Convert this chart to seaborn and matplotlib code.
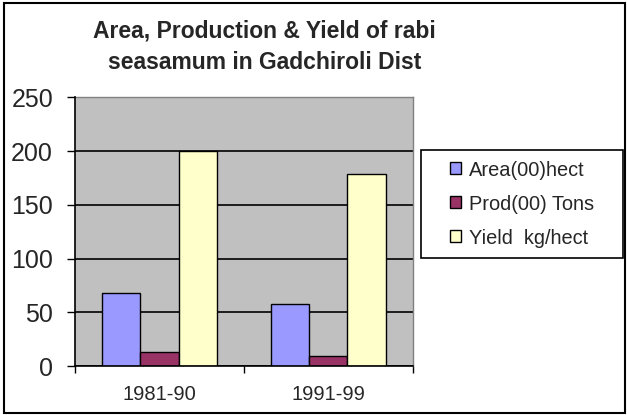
import matplotlib
matplotlib.use("Agg")
import matplotlib.pyplot as plt
import seaborn as sns
import pandas as pd
from matplotlib.patches import Rectangle

periods = ["1981-90", "1991-99"]
series = ["Area(00)hect", "Prod(00) Tons", "Yield  kg/hect"]
area = [68, 58]
prod = [13, 9]
yield_ = [200, 179]
colors = ["#9999FF", "#993366", "#FFFFCC"]
yticks = [0, 50, 100, 150, 200, 250]
title = "Area, Production & Yield of rabi\nseasamum in Gadchiroli Dist"

rows = []
for s, vals in zip(series, [area, prod, yield_]):
    for p, v in zip(periods, vals):
        rows.append({"Period": p, "Series": s, "Value": v})
df = pd.DataFrame(rows)

sns.set_theme(style="white")
plt.rcParams["font.family"] = ["Liberation Sans", "DejaVu Sans"]

W, H = 627, 415
fig = plt.figure(figsize=(W / 100, H / 100), dpi=100)
ax = fig.add_axes([75 / W, 1 - 366 / H, (412.7 - 75) / W, (366 - 97.3) / H])
ax.set_facecolor("#C0C0C0")

sns.barplot(data=df, x="Period", y="Value", hue="Series", palette=colors,
            width=0.68, edgecolor="black", linewidth=1.0, saturation=1,
            ax=ax, legend=False, zorder=3)

ax.set_ylim(0, 250)
ax.set_xlim(-0.5, 1.5)
ax.set_yticks(yticks)
ax.set_yticklabels([str(t) for t in yticks], fontsize=18)
ax.tick_params(axis="y", direction="out", length=5.8, width=1, color="black", pad=10, left=True)
ax.tick_params(axis="x", which="major", direction="out", length=0, pad=14, labelsize=14.5)
ax.set_xticks([-0.5, 0.5, 1.5], minor=True)
ax.tick_params(axis="x", which="minor", direction="out", length=5, width=1, color="black", bottom=True)
ax.set_xlabel("")
ax.set_ylabel("")
ax.grid(axis="y", color="black", lw=1.2, zorder=1)
ax.grid(axis="x", visible=False)
ax.set_axisbelow(True)
for side in ["top", "right"]:
    ax.spines[side].set_color("#808080")
    ax.spines[side].set_linewidth(1)
for side in ["left", "bottom"]:
    ax.spines[side].set_color("black")
    ax.spines[side].set_linewidth(1.2)
    ax.spines[side].set_zorder(6)

fig.text(264.5 / W, 1 - 47 / H, title, ha="center", va="center",
         fontsize=16.5, fontweight="bold", linespacing=1.45)

handles = [Rectangle((0, 0), 1, 1, facecolor=c, edgecolor="black", lw=1) for c in colors]
fig.legend(handles, series, loc="center left", bbox_to_anchor=(450 / W, 1 - 204 / H),
           frameon=False, fontsize=14.4, handlelength=0.55, handleheight=0.55,
           handletextpad=0.4, labelspacing=0.75, borderpad=0, borderaxespad=0)
fig.patches.append(Rectangle((421 / W, 1 - 258 / H), (623 - 421) / W, (258 - 150) / H,
                             transform=fig.transFigure, fill=False, edgecolor="black", lw=1.2))
fig.patches.append(Rectangle((4 / W, 1 - 413 / H), (625 - 4) / W, (413 - 3) / H,
                             transform=fig.transFigure, fill=False, edgecolor="black", lw=1.5))

fig.savefig("out.png", dpi=100)
